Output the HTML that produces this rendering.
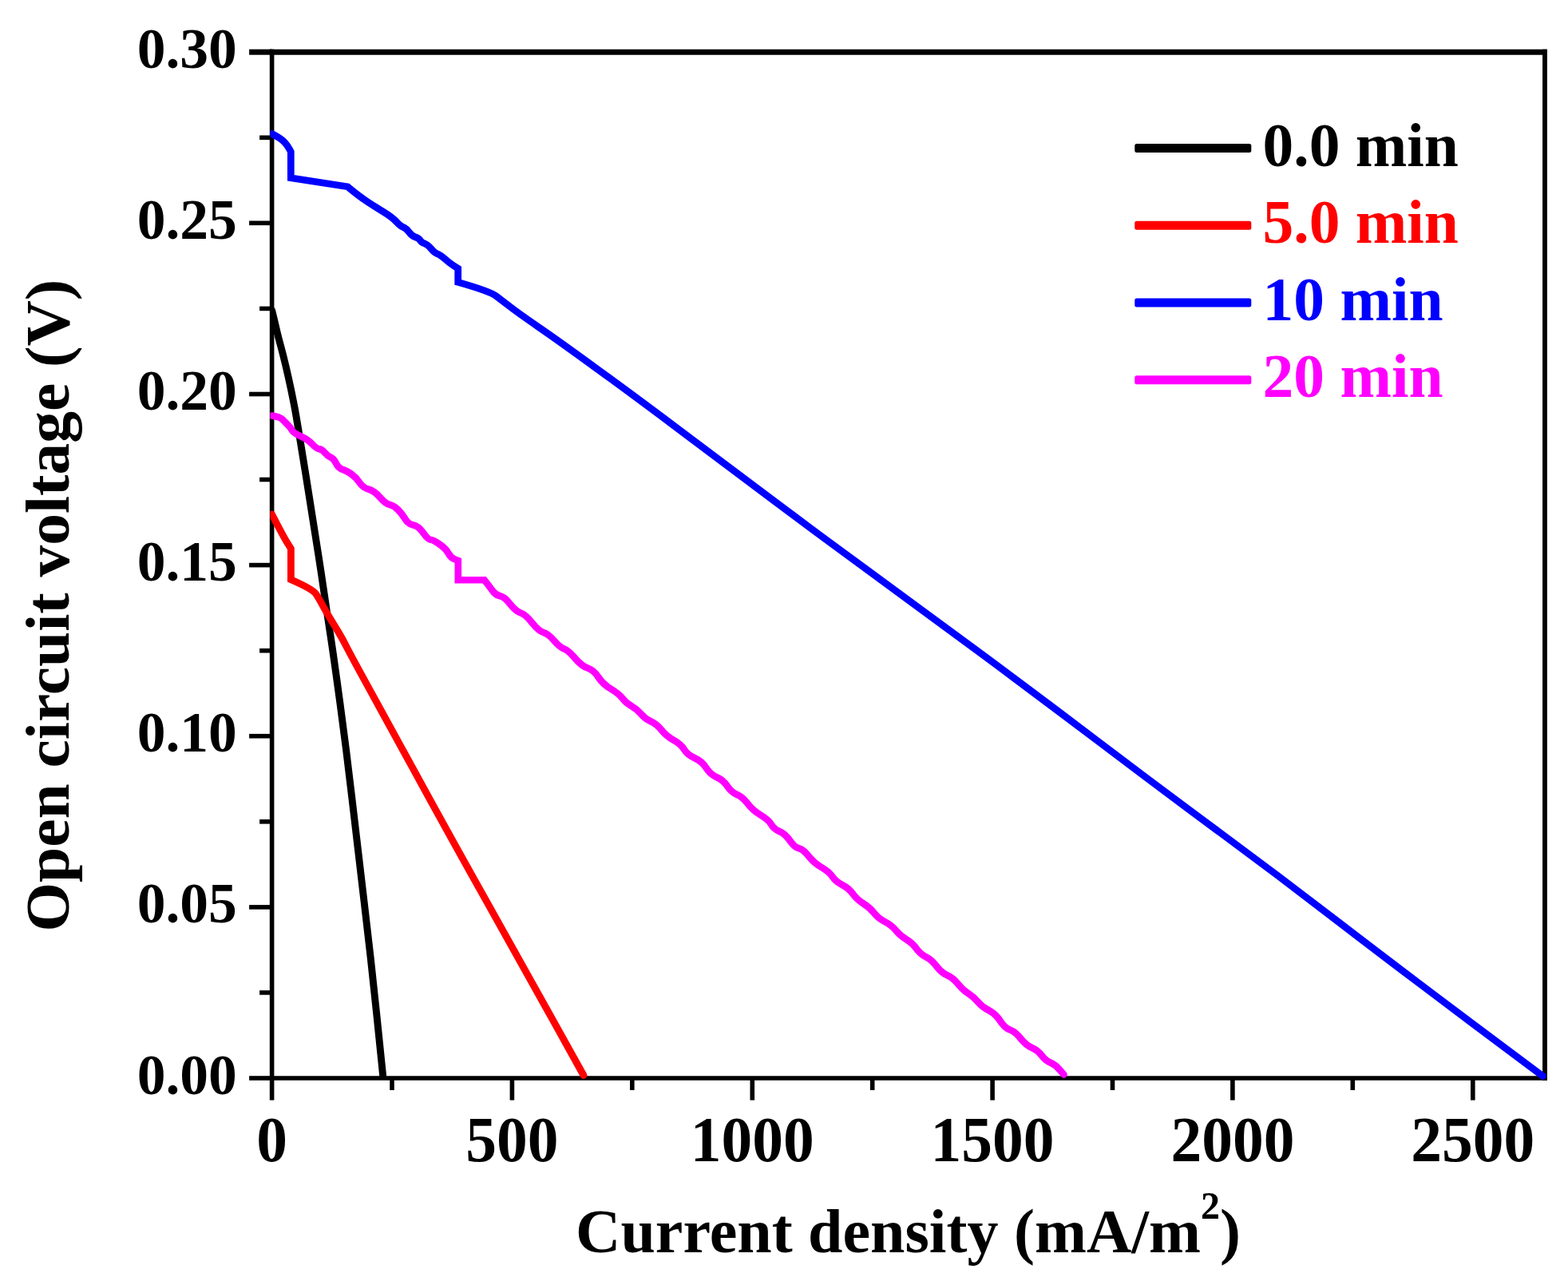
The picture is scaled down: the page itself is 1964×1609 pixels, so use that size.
<!DOCTYPE html>
<html lang="en">
<head>
<meta charset="utf-8">
<title>Open circuit voltage vs current density</title>
<style>
html,body{margin:0;padding:0;background:#ffffff;}
body{width:1964px;height:1609px;overflow:hidden;}
svg{display:block;}
</style>
</head>
<body>
<svg xmlns="http://www.w3.org/2000/svg" width="1964" height="1609" viewBox="0 0 1964 1609">
<rect x="0" y="0" width="1964" height="1609" fill="#ffffff"/>
<defs><clipPath id="plotclip"><rect x="338.4" y="55.2" width="1599.6" height="1297.6"/></clipPath></defs>
<g stroke="#000" fill="none" stroke-linecap="butt">
<line x1="340.6" y1="61.7" x2="340.6" y2="1352.8" stroke-width="5.6"/>
<line x1="1935.0" y1="61.7" x2="1935.0" y2="1352.8" stroke-width="5.9"/>
<line x1="337.8" y1="65.2" x2="1937.8" y2="65.2" stroke-width="7.0"/>
<line x1="337.8" y1="1350.0" x2="1937.8" y2="1350.0" stroke-width="5.6"/>
<line x1="312.1" y1="1350.0" x2="340.6" y2="1350.0" stroke-width="5.6"/>
<line x1="325.1" y1="1242.9" x2="340.6" y2="1242.9" stroke-width="5.6"/>
<line x1="312.1" y1="1135.9" x2="340.6" y2="1135.9" stroke-width="5.6"/>
<line x1="325.1" y1="1028.8" x2="340.6" y2="1028.8" stroke-width="5.6"/>
<line x1="312.1" y1="921.7" x2="340.6" y2="921.7" stroke-width="5.6"/>
<line x1="325.1" y1="814.7" x2="340.6" y2="814.7" stroke-width="5.6"/>
<line x1="312.1" y1="707.6" x2="340.6" y2="707.6" stroke-width="5.6"/>
<line x1="325.1" y1="600.5" x2="340.6" y2="600.5" stroke-width="5.6"/>
<line x1="312.1" y1="493.5" x2="340.6" y2="493.5" stroke-width="5.6"/>
<line x1="325.1" y1="386.4" x2="340.6" y2="386.4" stroke-width="5.6"/>
<line x1="312.1" y1="279.3" x2="340.6" y2="279.3" stroke-width="5.6"/>
<line x1="325.1" y1="172.3" x2="340.6" y2="172.3" stroke-width="5.6"/>
<line x1="312.1" y1="65.2" x2="340.6" y2="65.2" stroke-width="7.0"/>
<line x1="340.6" y1="1350.0" x2="340.6" y2="1377.6" stroke-width="5.6"/>
<line x1="491.0" y1="1350.0" x2="491.0" y2="1365.0" stroke-width="5.6"/>
<line x1="641.4" y1="1350.0" x2="641.4" y2="1377.6" stroke-width="5.6"/>
<line x1="791.8" y1="1350.0" x2="791.8" y2="1365.0" stroke-width="5.6"/>
<line x1="942.3" y1="1350.0" x2="942.3" y2="1377.6" stroke-width="5.6"/>
<line x1="1092.7" y1="1350.0" x2="1092.7" y2="1365.0" stroke-width="5.6"/>
<line x1="1243.1" y1="1350.0" x2="1243.1" y2="1377.6" stroke-width="5.6"/>
<line x1="1393.5" y1="1350.0" x2="1393.5" y2="1365.0" stroke-width="5.6"/>
<line x1="1543.9" y1="1350.0" x2="1543.9" y2="1377.6" stroke-width="5.6"/>
<line x1="1694.3" y1="1350.0" x2="1694.3" y2="1365.0" stroke-width="5.6"/>
<line x1="1844.8" y1="1350.0" x2="1844.8" y2="1377.6" stroke-width="5.6"/>
</g>
<g clip-path="url(#plotclip)">
<path d="M340.6,388.5 Q344.2,403.0 346.1,411.5 Q348.0,420.0 351.4,432.4 Q354.8,444.8 358.3,459.7 Q361.8,474.6 364.5,487.6 Q367.2,500.7 369.0,510.1 Q370.8,519.6 374.9,544.7 Q379.0,569.7 383.0,594.5 Q387.0,619.4 390.9,644.5 Q394.9,669.5 398.8,694.6 Q402.7,719.7 406.3,744.5 Q409.9,769.4 413.8,794.7 Q417.7,820.0 425.8,879.6 Q433.9,939.3 440.8,999.0 Q447.6,1058.7 456.1,1129.3 Q464.6,1200.0 472.1,1273.2 L479.6,1346.5" fill="none" stroke="#000000" stroke-width="8.90" stroke-linejoin="miter" stroke-miterlimit="4" stroke-linecap="round"/>
<path d="M340.6,644.0 Q353.9,670.0 359.1,678.5 L364.4,686.9 L364.4,725.7 Q391.7,737.6 395.7,743.6 Q399.7,749.6 403.6,757.0 Q407.6,764.5 413.6,774.5 Q419.6,784.4 424.6,792.6 Q429.5,800.8 434.3,810.4 Q439.1,820.0 473.4,882.4 Q507.6,944.8 538.8,1001.6 Q570.0,1058.4 609.7,1129.2 Q649.4,1200.0 690.2,1273.2 L731.0,1346.5" fill="none" stroke="#ff0000" stroke-width="8.80" stroke-linejoin="miter" stroke-miterlimit="4" stroke-linecap="round"/>
<path d="M340.5,167.5 Q345.9,170.2 350.1,172.9 Q354.4,175.7 357.4,179.3 Q360.5,183.0 362.4,186.5 L364.3,190.0 L364.3,222.7 L435.5,233.8 Q450.4,246.2 460.6,252.8 Q470.8,259.5 481.0,265.7 Q491.2,271.9 496.3,277.5 Q501.4,283.1 505.4,284.6 Q509.5,286.2 512.5,290.8 Q515.6,295.3 520.2,296.9 Q524.8,298.4 526.3,300.9 Q527.9,303.5 532.0,305.0 Q536.0,306.5 540.1,311.6 Q544.2,316.7 547.8,317.8 Q551.3,318.8 556.9,323.9 Q562.5,329.0 568.1,332.6 L573.7,336.1 L573.7,353.4 Q613.5,364.7 621.8,370.9 Q630.0,377.2 640.0,384.9 Q650.0,392.6 675.0,409.8 Q700.0,426.9 750.0,463.4 Q800.0,499.8 850.0,537.4 Q900.0,575.0 950.0,612.6 Q1000.0,650.3 1075.0,705.2 Q1150.0,760.2 1225.0,815.6 Q1300.0,871.0 1375.0,927.9 Q1450.0,984.8 1525.0,1040.2 Q1600.0,1095.5 1675.0,1153.2 Q1750.0,1210.8 1841.2,1279.2 L1932.5,1347.5" fill="none" stroke="#0000ff" stroke-width="8.70" stroke-linejoin="miter" stroke-miterlimit="4" stroke-linecap="round"/>
<path d="M340.6,520.5 Q350.6,522.0 353.6,525.1 Q356.7,528.2 360.5,532.0 Q364.3,535.8 365.9,538.9 Q367.4,542.0 376.5,546.2 Q385.7,550.4 391.1,556.1 Q396.5,561.8 399.9,562.2 Q403.3,562.6 406.8,566.8 Q410.2,571.0 414.0,572.5 Q417.9,574.0 420.9,580.1 Q424.0,586.3 429.1,587.8 Q434.2,589.2 440.3,593.8 Q446.4,598.3 450.5,604.5 Q454.6,610.6 461.7,612.7 Q468.8,614.7 476.0,622.9 Q483.1,631.0 488.2,632.0 Q493.3,633.0 498.4,638.1 Q503.5,643.2 507.6,649.9 Q511.6,656.5 517.8,657.5 Q523.9,658.5 530.0,667.1 Q536.1,675.8 539.2,675.8 Q542.2,675.8 550.4,681.4 Q558.5,687.0 561.5,692.6 Q564.6,698.2 569.2,700.1 L573.8,702.0 L573.8,726.3 L606.8,726.3 Q613.6,735.0 617.2,740.0 Q620.7,745.1 626.3,746.2 Q631.9,747.2 639.0,756.4 Q646.2,765.5 652.3,767.5 Q658.4,769.6 666.5,779.8 Q674.7,790.0 680.9,792.0 Q687.0,794.0 694.1,802.2 Q701.2,810.4 706.7,812.5 Q712.2,814.7 720.4,824.4 Q728.5,834.0 736.1,836.5 Q743.8,839.1 749.4,847.8 Q755.0,856.5 765.2,862.6 Q775.4,868.7 779.5,874.3 Q783.6,879.9 790.8,884.0 Q797.9,888.0 803.0,894.1 Q808.0,900.3 815.1,903.3 Q822.3,906.4 828.5,914.0 Q834.6,921.7 843.8,926.8 Q852.9,931.9 857.0,938.5 Q861.0,945.1 870.2,949.2 Q879.4,953.3 884.5,961.5 Q889.6,969.6 897.8,973.2 Q905.9,976.7 911.0,984.4 Q916.1,992.0 923.2,995.0 Q930.4,998.1 936.5,1006.3 Q942.6,1014.5 952.8,1020.6 Q963.0,1026.7 966.0,1032.3 Q969.1,1037.9 976.2,1041.0 Q983.4,1044.0 989.5,1052.7 Q995.6,1061.3 1000.7,1062.3 Q1005.8,1063.4 1013.0,1072.2 Q1020.2,1081.0 1029.5,1086.4 Q1038.7,1091.8 1042.8,1097.9 Q1046.9,1104.0 1055.1,1108.1 Q1063.2,1112.2 1068.3,1119.3 Q1073.4,1126.5 1081.6,1131.5 Q1089.7,1136.6 1094.8,1143.2 Q1099.9,1149.9 1108.1,1154.0 Q1116.2,1158.0 1122.3,1165.2 Q1128.4,1172.3 1135.6,1176.4 Q1142.7,1180.5 1147.8,1187.7 Q1152.9,1194.8 1160.1,1198.3 Q1167.2,1201.9 1173.3,1210.1 Q1179.4,1218.2 1186.6,1221.2 Q1193.7,1224.3 1199.8,1231.9 Q1205.9,1239.6 1213.1,1244.2 Q1220.2,1248.8 1225.3,1254.9 Q1230.4,1261.0 1238.6,1265.1 Q1246.7,1269.2 1252.8,1278.3 Q1258.9,1287.5 1265.1,1289.5 Q1271.2,1291.6 1278.3,1300.2 Q1285.4,1308.9 1292.6,1312.0 Q1299.7,1315.0 1304.8,1321.7 Q1309.9,1328.3 1316.0,1330.8 Q1322.1,1333.4 1327.3,1339.5 L1332.5,1345.5" fill="none" stroke="#ff00ff" stroke-width="8.60" stroke-linejoin="miter" stroke-miterlimit="4" stroke-linecap="round"/>
</g>
<text transform="translate(296.8,1369.5) scale(1,1.02)" font-family="'Liberation Serif', serif" font-weight="bold" font-size="71.5" text-anchor="end" fill="#000">0.00</text>
<text transform="translate(296.8,1155.4) scale(1,1.02)" font-family="'Liberation Serif', serif" font-weight="bold" font-size="71.5" text-anchor="end" fill="#000">0.05</text>
<text transform="translate(296.8,941.2) scale(1,1.02)" font-family="'Liberation Serif', serif" font-weight="bold" font-size="71.5" text-anchor="end" fill="#000">0.10</text>
<text transform="translate(296.8,727.1) scale(1,1.02)" font-family="'Liberation Serif', serif" font-weight="bold" font-size="71.5" text-anchor="end" fill="#000">0.15</text>
<text transform="translate(296.8,513.0) scale(1,1.02)" font-family="'Liberation Serif', serif" font-weight="bold" font-size="71.5" text-anchor="end" fill="#000">0.20</text>
<text transform="translate(296.8,298.8) scale(1,1.02)" font-family="'Liberation Serif', serif" font-weight="bold" font-size="71.5" text-anchor="end" fill="#000">0.25</text>
<text transform="translate(296.8,84.7) scale(1,1.02)" font-family="'Liberation Serif', serif" font-weight="bold" font-size="71.5" text-anchor="end" fill="#000">0.30</text>
<text transform="translate(340.6,1453.6) scale(1,1.03)" font-family="'Liberation Serif', serif" font-weight="bold" font-size="77.5" text-anchor="middle" fill="#000">0</text>
<text transform="translate(641.4,1453.6) scale(1,1.03)" font-family="'Liberation Serif', serif" font-weight="bold" font-size="77.5" text-anchor="middle" fill="#000">500</text>
<text transform="translate(942.3,1453.6) scale(1,1.03)" font-family="'Liberation Serif', serif" font-weight="bold" font-size="77.5" text-anchor="middle" fill="#000">1000</text>
<text transform="translate(1243.1,1453.6) scale(1,1.03)" font-family="'Liberation Serif', serif" font-weight="bold" font-size="77.5" text-anchor="middle" fill="#000">1500</text>
<text transform="translate(1543.9,1453.6) scale(1,1.03)" font-family="'Liberation Serif', serif" font-weight="bold" font-size="77.5" text-anchor="middle" fill="#000">2000</text>
<text transform="translate(1844.8,1453.6) scale(1,1.03)" font-family="'Liberation Serif', serif" font-weight="bold" font-size="77.5" text-anchor="middle" fill="#000">2500</text>
<text x="1137.5" y="1567.5" font-family="'Liberation Serif', serif" font-weight="bold" font-size="78" text-anchor="middle" fill="#000">Current density (mA/m<tspan font-size="48" dy="-42" font-weight="bold">2</tspan><tspan dy="42">)</tspan></text>
<text transform="translate(86.0,758.2) rotate(-90) scale(1.0185,1)" font-family="'Liberation Serif', serif" font-weight="bold" font-size="78" text-anchor="middle" fill="#000">Open circuit voltage (V)</text>
<rect x="1421.3" y="179.9" width="146" height="11" rx="2.5" ry="2.5" fill="#000000"/>
<text x="1581.5" y="207.5" font-family="'Liberation Serif', serif" font-weight="bold" font-size="77.5" fill="#000000">0.0 min</text>
<rect x="1421.3" y="276.7" width="146" height="11" rx="2.5" ry="2.5" fill="#ff0000"/>
<text x="1581.5" y="304.4" font-family="'Liberation Serif', serif" font-weight="bold" font-size="77.5" fill="#ff0000">5.0 min</text>
<rect x="1421.3" y="373.5" width="146" height="11" rx="2.5" ry="2.5" fill="#0000ff"/>
<text x="1581.5" y="400.8" font-family="'Liberation Serif', serif" font-weight="bold" font-size="77.5" fill="#0000ff">10 min</text>
<rect x="1421.3" y="470.3" width="146" height="11" rx="2.5" ry="2.5" fill="#ff00ff"/>
<text x="1581.5" y="497.0" font-family="'Liberation Serif', serif" font-weight="bold" font-size="77.5" fill="#ff00ff">20 min</text>
</svg>
</body>
</html>
